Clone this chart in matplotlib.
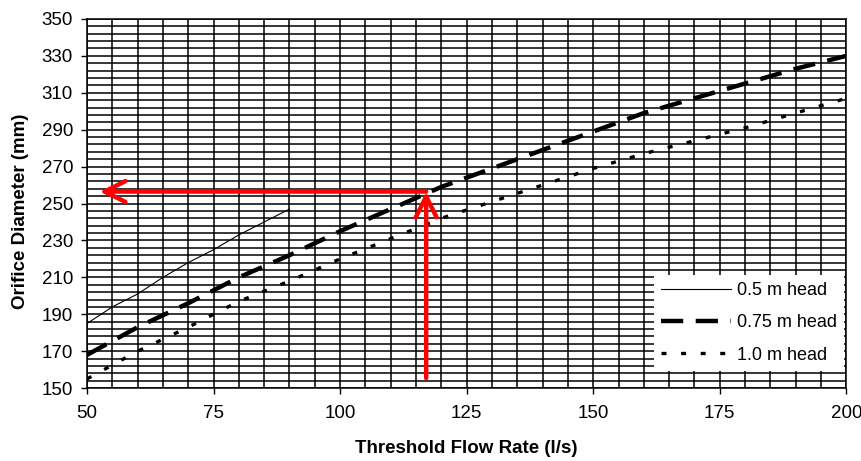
import numpy as np
import matplotlib
matplotlib.use("Agg")
import matplotlib.pyplot as plt
from matplotlib.ticker import MultipleLocator, FixedLocator

plt.rcParams['font.family'] = ['Liberation Sans', 'DejaVu Sans']
plt.rcParams['lines.scale_dashes'] = False

# valores
q_05 = [50, 55, 60, 65, 70, 75, 80, 85, 90]
d_05 = [185, 194, 201, 210, 218, 225, 233, 240, 247]

q_075 = [50, 60, 70, 80, 90, 100, 110, 120, 130, 140, 150, 160, 170, 180, 190, 200]
d_075 = [168, 183, 196, 210, 222, 235, 247, 259, 269, 279, 289, 299, 307, 315, 323, 330]

q_10 = [50, 60, 70, 75, 80, 90, 100, 110, 120, 130, 140, 150, 160, 170, 180, 190, 200]
d_10 = [155, 170, 183, 190, 197, 208, 220, 231, 242, 251, 260, 269, 277, 284, 291, 299, 307]

etiquetas = ['0.5 m head', '0.75 m head', '1.0 m head']
y_ticks = [150, 170, 190, 210, 230, 250, 270, 290, 310, 330, 350]

# lectura del ejemplo (flechas rojas)
q_lectura = 117
d_lectura = 256.5
q_flecha_fin = 52.5
d_flecha_ini = 155.5

fig = plt.figure(figsize=(8.61, 4.61), dpi=100)
ax = fig.add_axes([0.101, 0.158, 0.882, 0.801])

ax.plot(q_05, d_05, color='black', lw=0.8, label=etiquetas[0])
ax.plot(q_075, d_075, color='black', lw=3.2, dashes=[16, 9], label=etiquetas[1])
ax.plot(q_10, d_10, color='black', lw=2.4, dashes=[3.6, 10.5], label=etiquetas[2])

ax.set_xlim(50, 200)
ax.set_ylim(150, 350)
ax.xaxis.set_major_locator(MultipleLocator(25))
ax.xaxis.set_minor_locator(MultipleLocator(5))
ax.yaxis.set_major_locator(FixedLocator(y_ticks))
ax.yaxis.set_minor_locator(FixedLocator(np.arange(150, 351, 4)))
ax.set_axisbelow(True)
ax.grid(which='both', color='black', lw=1.1)
ax.tick_params(which='minor', length=0)
ax.tick_params(which='major', length=4, width=1, direction='out', labelsize=13.5, color='black')
ax.tick_params(axis='x', pad=8)
ax.tick_params(axis='y', pad=6)
for s in ax.spines.values():
    s.set_color('black')
    s.set_linewidth(1.1)

ax.set_xlabel('Threshold Flow Rate (l/s)', fontsize=13.5, fontweight='bold')
ax.set_ylabel('Orifice Diameter (mm)', fontsize=13.5, fontweight='bold')
ax.xaxis.set_label_coords(0.5, -0.141)
ax.yaxis.set_label_coords(-0.076, 0.48)

# flechas
flecha = dict(arrowstyle='->,head_length=1.0,head_width=0.5', lw=3.2, color='red',
              mutation_scale=15, shrinkA=0, shrinkB=0)
ax.annotate('', xy=(q_lectura, d_lectura), xytext=(q_lectura, d_flecha_ini), arrowprops=flecha)
ax.annotate('', xy=(q_flecha_fin, d_lectura), xytext=(q_lectura, d_lectura), arrowprops=flecha)

leg = ax.legend(loc='lower right', bbox_to_anchor=(0.997, 0.047), fontsize=13,
                frameon=True, fancybox=False, borderaxespad=0, handlelength=3.9,
                labelspacing=0.85, borderpad=0.4, handletextpad=0.3)
leg.get_frame().set_facecolor('white')
leg.get_frame().set_edgecolor('none')
leg.get_frame().set_alpha(1)

fig.savefig('out.png', dpi=100)
